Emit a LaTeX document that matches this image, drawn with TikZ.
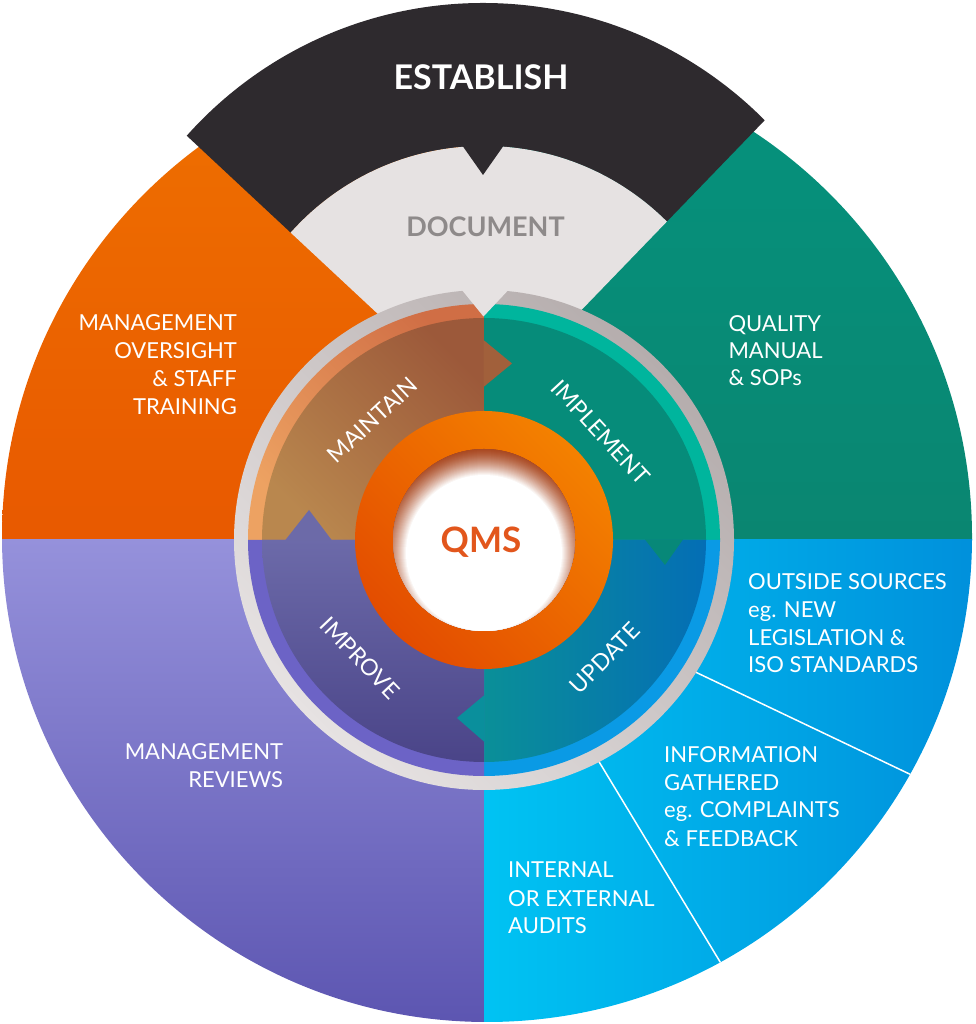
\documentclass[tikz,border=0pt]{standalone}
\usepackage{fontspec}
\setmainfont{Lato}
\usetikzlibrary{calc}
\definecolor{bandblack}{HTML}{2E2A2E}
\definecolor{docgray}{HTML}{E6E2E2}
\definecolor{doctext}{HTML}{8E8A8A}
\definecolor{orT}{HTML}{F07400}
\definecolor{orB}{HTML}{E85900}
\definecolor{teT}{HTML}{04947F}
\definecolor{teB}{HTML}{0A8671}
\definecolor{puT}{HTML}{9591DB}
\definecolor{puB}{HTML}{5B54B0}
\definecolor{blL}{HTML}{00C3F3}
\definecolor{blR}{HTML}{008FDB}
\definecolor{ringD}{HTML}{B5ADAD}
\definecolor{ringL}{HTML}{E6E2E2}
\definecolor{maD}{HTML}{9C593A}
\definecolor{maL}{HTML}{B9874E}
\definecolor{maRimD}{HTML}{D06E45}
\definecolor{maRimL}{HTML}{EDA262}
\definecolor{maArrow}{HTML}{A1603B}
\definecolor{imMain}{HTML}{068C7A}
\definecolor{imRim}{HTML}{00B59D}
\definecolor{imArrow}{HTML}{078878}
\definecolor{upL}{HTML}{0A8F98}
\definecolor{upR}{HTML}{046EB5}
\definecolor{upRim}{HTML}{0A9AE5}
\definecolor{upArrow}{HTML}{0A8F9C}
\definecolor{ipT}{HTML}{6C6AA9}
\definecolor{ipB}{HTML}{4A4488}
\definecolor{ipRim}{HTML}{6C63C6}
\definecolor{ipArrow}{HTML}{6C6AA8}
\definecolor{qoT}{HTML}{F48100}
\definecolor{qoB}{HTML}{E34C00}
\definecolor{qmstext}{HTML}{E2561C}
\definecolor{holeC}{HTML}{A8461E}
\tikzset{
  lbl/.style={text=white, inner sep=0pt, font=\fontsize{22}{26}\selectfont},
  lblW/.style={lbl, anchor=base west},
  lblE/.style={lbl, anchor=base east},
  ringlbl/.style={text=white, inner sep=0pt, font=\fontsize{23}{27}\selectfont, anchor=center},
  divline/.style={white, line width=1.5pt}
}
\begin{document}
\begin{tikzpicture}[x=1pt,y=1pt]
\useasboundingbox (0,0) rectangle (975,1024);
\coordinate (O) at (487,487);
\coordinate (C) at (484,484);
\coordinate (A) at (483,612);
\coordinate (B1) at (483,624);
\coordinate (B2) at (484,619);
\coordinate (L1a) at (680,359.3);
\coordinate (L1b) at (925,242.6);
\coordinate (L2a) at (590,277.2);
\coordinate (L2b) at (730,45.7);

% outer sectors
\begin{scope}
  \clip (O) circle[radius=485];
  \shade[top color=orT, bottom color=orB] (-10,484) rectangle (484,1030);
  \shade[top color=teT, bottom color=teB] (484,484) rectangle (985,1030);
  \shade[top color=puT, bottom color=puB] (-10,-10) rectangle (484,484);
  \shade[left color=blL, right color=blR] (484,-10) rectangle (985,484);
  \draw[divline] (L1a) -- (L1b);
  \draw[divline] (L2a) -- (L2b);
\end{scope}

% establish / document wedge
\begin{scope}
  \clip (A) -- +(46:900) -- +(91.5:1200) -- +(137:900) -- cycle;
  \fill[bandblack, even odd rule] (B1) circle[radius=397] (B2) circle[radius=259];
  \fill[docgray] (B2) circle[radius=259];
  \fill[bandblack] (457,886) -- (483,849) -- (509,886) -- cycle;
\end{scope}

% gray ring
\shade[top color=ringD, bottom color=ringL, shading angle=-45] (C) circle[radius=250];

% quadrants
\shade[top color=maRimD, bottom color=maRimL, shading angle=-45] (C) -- ++(90:236) arc[start angle=90,end angle=180,radius=236] -- cycle;
\shade[top color=maD, bottom color=maL, shading angle=-45] (C) -- ++(90:222) arc[start angle=90,end angle=180,radius=222] -- cycle;
\fill[imRim] (C) -- ++(0:236) arc[start angle=0,end angle=90,radius=236] -- cycle;
\fill[imMain] (C) -- ++(0:222) arc[start angle=0,end angle=90,radius=222] -- cycle;
\fill[upRim] (C) -- ++(270:236) arc[start angle=270,end angle=360,radius=236] -- cycle;
\shade[left color=upL, right color=upR] (C) -- ++(270:222) arc[start angle=270,end angle=360,radius=222] -- cycle;
\fill[ipRim] (C) -- ++(180:236) arc[start angle=180,end angle=270,radius=236] -- cycle;
\shade[top color=ipT, bottom color=ipB] (C) -- ++(180:222) arc[start angle=180,end angle=270,radius=222] -- cycle;

% arrow heads
\fill[maArrow] (483.5,637) -- (512,660.5) -- (483.5,684) -- cycle;
\fill[imArrow] (645,484.5) -- (665,459) -- (683,484.5) -- cycle;
\fill[upArrow] (484.5,329) -- (457,306) -- (484.5,282) -- cycle;
\fill[ipArrow] (285,483.5) -- (309,514) -- (332,483.5) -- cycle;

% document tip
\fill[docgray] (457,740) -- (514,740) -- (483.5,707.5) -- cycle;

% QMS centre
\shade[top color=qoT, bottom color=qoB, shading angle=-45] (C) circle[radius=129];
\begin{scope}
  \clip (C) circle[radius=91];
  \fill[holeC] (C) circle[radius=92];
  \foreach \k in {0,...,28} {
    \pgfmathsetmacro{\p}{100*(\k/28)^1.5}
    \fill[white!\p!holeC] ([yshift=-13pt]C) circle[radius=106-\k];
  }
\end{scope}

% texts
\node[text=white, inner sep=0pt, anchor=base, font=\fontsize{34}{38}\selectfont\bfseries] (est) at (481,934) {ESTABLISH};
\node[text=doctext, inner sep=0pt, anchor=base, font=\fontsize{27}{31}\selectfont\bfseries] (doc) at (485.5,787.3) {DOCUMENT};
\node[text=qmstext, inner sep=0pt, anchor=base, font=\fontsize{35}{40}\selectfont\bfseries] (qms) at (481,471) {QMS};

\node[ringlbl, rotate=43] (mt) at ([shift={(133:164)}]C) {MAINTAIN};
\node[ringlbl, rotate=-47.3] (im) at ([shift={(42.7:159)}]C) {IMPLEMENT};
\node[ringlbl, rotate=45.6] (up) at ([shift={(-44.4:169)}]C) {UPDATE};
\node[ringlbl, rotate=-46.4] (ip) at ([shift={(-136.4:171)}]C) {IMPROVE};

\node[lblE] (mo1) at (237,693) {MANAGEMENT};
\node[lblE] (mo2) at (237,665.3) {OVERSIGHT};
\node[lblE] (mo3) at (237,637.6) {\& STAFF};
\node[lblE] (mo4) at (237,609.9) {TRAINING};

\node[lblW] (qm1) at (728.3,692.3) {QUALITY};
\node[lblW] (qm2) at (728.3,665.7) {MANUAL};
\node[lblW] (qm3) at (728.3,638) {\& SOPs};

\node[lblE] (mr1) at (283.3,264) {MANAGEMENT};
\node[lblE] (mr2) at (283.3,236.7) {REVIEWS};

\node[lblW] (os1) at (748,434) {OUTSIDE SOURCES};
\node[lblW] (os2) at (748,406) {eg. NEW};
\node[lblW] (os3) at (748,378) {LEGISLATION \&};
\node[lblW] (os4) at (748,351) {ISO STANDARDS};

\node[lblW] (ig1) at (664,261) {INFORMATION};
\node[lblW] (ig2) at (664,233) {GATHERED};
\node[lblW] (ig3) at (664,206) {eg. COMPLAINTS};
\node[lblW] (ig4) at (664,177) {\& FEEDBACK};

\node[lblW] (ia1) at (508,146) {INTERNAL};
\node[lblW] (ia2) at (508,117) {OR EXTERNAL};
\node[lblW] (ia3) at (508,90) {AUDITS};
\end{tikzpicture}
\end{document}
